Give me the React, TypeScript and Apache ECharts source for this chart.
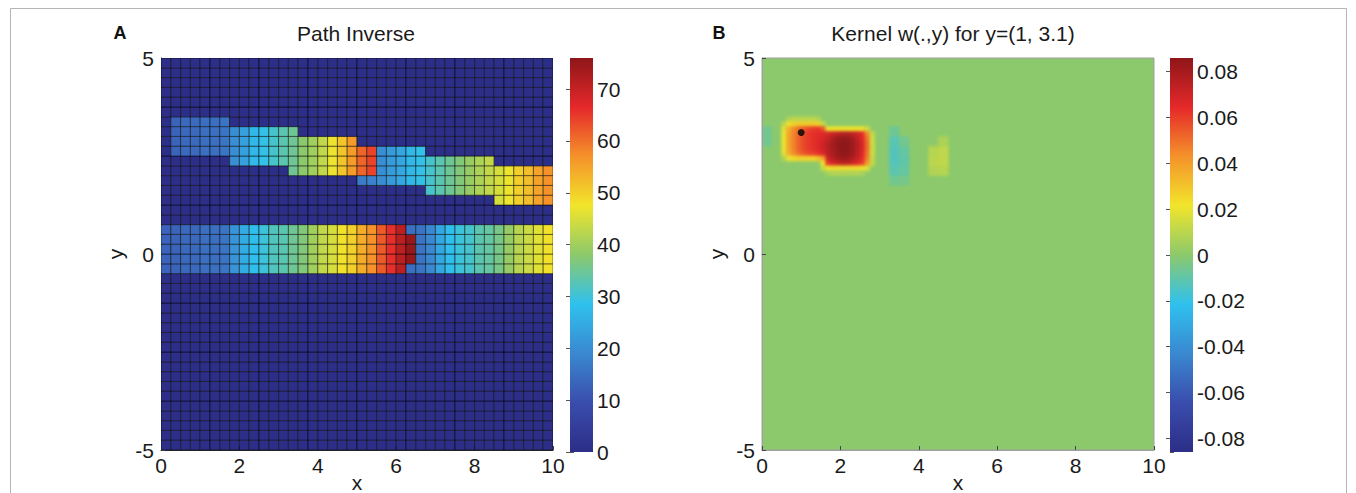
import React, { useEffect, useRef } from "react";
import * as echarts from "echarts";

// ---------------- data ----------------
const CELL = 0.25;
const xTickValues = [0, 2, 4, 6, 8, 10];
const yTickValues = [-5, 0, 5];
const pathMax = 76;
const kernelRange = 0.086;
const kernelPoint = [1, 3.1];

// Panel A, upper path band: runs of columns (first column index, y bottom, y top, value per column)
const upperRunStart = [1, 7, 13, 14, 20, 22, 27, 34];
const upperRunBottom = [2.5, 2.25, 2.0, 2.0, 2.0, 1.75, 1.5, 1.25];
const upperRunTop = [3.5, 3.25, 3.25, 3.0, 2.75, 2.75, 2.5, 2.25];
const upperRunValues = [
  [13, 14, 14, 15, 15, 16],
  [20, 23, 27, 29, 31, 33],
  [35],
  [38, 40, 43, 47, 51, 56],
  [61, 64],
  [20, 22, 24, 27, 29],
  [31, 33, 35, 37, 39, 41, 43],
  [45, 47, 50, 52, 55, 57],
];
const upperExtraCells = [
  [5.0, 1.75, 17],
  [5.25, 1.75, 18],
];

// Panel A, lower band (y -0.5 .. 0.75), one value per column 0..39
const lowerBottom = -0.5;
const lowerTop = 0.75;
const lowerValues = [
  13, 13, 14, 14, 15, 15, 16, 21, 25, 28, 30, 32, 33, 35, 37, 40, 43, 45, 48, 50,
  54, 57, 62, 66, 71, 75, 16, 19, 24, 28, 30, 31, 33, 34, 36, 39, 42, 44, 46, 48,
];
const lowerExtraCells = [
  [6.25, 0.5, 15],
  [6.25, -0.5, 15],
];

// Panel B kernel, fine cells (0.125), values in 1/1000; columns from x=0.375, rows from y=3.5 down
const kernelFineX0 = 0.375;
const kernelFineTop = 3.5;
const kernelFineStep = 0.125;
const kernelFineRows = [
  [0, 0, 8, 10, 10, 10, 10, 10, 8, 0, 0, 0, 0, 0, 0, 0, 0, 0, 0, 0],
  [0, 10, 22, 26, 28, 28, 28, 28, 26, 12, 0, 0, 0, 0, 0, 0, 0, 0, 0, 0],
  [0, 18, 36, 44, 50, 55, 58, 60, 62, 56, 20, 22, 22, 22, 22, 22, 22, 20, 14, 0],
  [0, 20, 38, 46, 53, 58, 61, 63, 65, 66, 68, 72, 74, 76, 76, 74, 70, 64, 45, 12],
  [0, 20, 38, 46, 53, 58, 61, 63, 65, 68, 72, 78, 82, 84, 84, 80, 74, 66, 50, 14],
  [0, 20, 38, 46, 53, 58, 61, 63, 66, 70, 75, 80, 84, 86, 86, 82, 76, 68, 52, 14],
  [0, 20, 38, 46, 53, 58, 61, 63, 66, 70, 75, 80, 84, 86, 86, 82, 76, 68, 52, 14],
  [0, 18, 36, 44, 50, 55, 58, 60, 63, 68, 74, 79, 83, 85, 85, 81, 75, 67, 50, 14],
  [0, 8, 20, 24, 26, 26, 26, 26, 30, 40, 70, 76, 80, 82, 82, 78, 72, 64, 48, 12],
  [0, 0, 0, 0, 0, 0, 0, 0, 0, 22, 62, 68, 72, 74, 74, 70, 66, 60, 42, 12],
  [0, 0, 0, 0, 0, 0, 0, 0, 0, 12, 22, 24, 24, 24, 24, 24, 24, 22, 16, 0],
  [0, 0, 0, 0, 0, 0, 0, 0, 0, 0, 6, 8, 8, 8, 8, 8, 8, 6, 0, 0],
];
// Panel B kernel, faint coarse cells (0.25): [x0, y0, value/1000]
const kernelCoarseCells = [
  [0, 2.75, -6], [0, 3.0, -6],
  [3.25, 1.75, -6], [3.25, 2.0, -11], [3.25, 2.25, -13], [3.25, 2.5, -13], [3.25, 2.75, -12], [3.25, 3.0, -7],
  [3.5, 1.75, -5], [3.5, 2.0, -9], [3.5, 2.25, -10], [3.5, 2.5, -9], [3.5, 2.75, -6],
  [4.25, 2.0, 8], [4.25, 2.25, 10], [4.25, 2.5, 9],
  [4.5, 2.0, 9], [4.5, 2.25, 11], [4.5, 2.5, 11], [4.5, 2.75, 7],
];

// ---------------- styles / layout ----------------
const FONT = "'Liberation Sans', Arial, Helvetica, sans-serif";
const FS = 21;
const JET = ["#2C2E87", "#3A4DAC", "#3A88D0", "#2FC1EE", "#8CC96C", "#F1E52B", "#F5922A", "#E5282A", "#8E1619"];
const ZERO_COLOR = JET[4];
const plotA = { left: 161, top: 58, width: 392, height: 392 };
const barA = { left: 570, top: 58, width: 23, height: 394 };
const plotB = { left: 762, top: 58, width: 392, height: 392 };
const barB = { left: 1170, top: 58, width: 23, height: 394 };
const HEAT_PAD = 12;

// ---------------- builders ----------------
function buildPathCells() {
  const n = Math.round(10 / CELL);
  const grid: number[][] = [];
  for (let c = 0; c < n; c++) grid.push(new Array(n).fill(0));
  const setCell = (x0: number, y0: number, v: number) => {
    const c = Math.round(x0 / CELL);
    const r = Math.round((y0 + 5) / CELL);
    if (c >= 0 && c < n && r >= 0 && r < n) grid[c][r] = v;
  };
  upperRunStart.forEach((start, k) => {
    upperRunValues[k].forEach((v, i) => {
      const x0 = (start + i) * CELL;
      for (let y0 = upperRunBottom[k]; y0 < upperRunTop[k] - 1e-9; y0 += CELL) setCell(x0, y0, v);
    });
  });
  upperExtraCells.forEach(([x, y, v]) => setCell(x, y, v));
  lowerValues.forEach((v, c) => {
    for (let y0 = lowerBottom; y0 < lowerTop - 1e-9; y0 += CELL) setCell(c * CELL, y0, v);
  });
  lowerExtraCells.forEach(([x, y, v]) => setCell(x, y, v));
  const data: number[][] = [];
  for (let c = 0; c < n; c++) for (let r = 0; r < n; r++) data.push([c * CELL, -5 + r * CELL, CELL, grid[c][r]]);
  return data;
}

function buildKernelCells() {
  const data: number[][] = [];
  kernelCoarseCells.forEach(([x, y, v]) => data.push([x, y, CELL, v / 1000]));
  kernelFineRows.forEach((row, j) => {
    row.forEach((v, i) => {
      if (v === 0) return;
      const x0 = kernelFineX0 + i * kernelFineStep;
      const y0 = kernelFineTop - (j + 1) * kernelFineStep;
      data.push([x0, y0, kernelFineStep, v / 1000]);
    });
  });
  return data;
}

const cellRenderer = (stroke: string | null) => (params: any, api: any) => {
  const x0 = api.value(0);
  const y0 = api.value(1);
  const s = api.value(2);
  const p1 = api.coord([x0, y0 + s]);
  const p2 = api.coord([x0 + s, y0]);
  const fill = api.visual("color");
  return {
    type: "rect",
    shape: { x: p1[0], y: p1[1], width: p2[0] - p1[0], height: p2[1] - p1[1] },
    style: { fill, stroke: stroke || fill, lineWidth: stroke ? 0.9 : 0.6 },
  };
};

const colorbarRenderer = (params: any, api: any) => {
  const top = api.coord([0, api.value(2)]);
  const bot = api.coord([1, api.value(1)]);
  const rev = JET.slice().reverse();
  return {
    type: "rect",
    shape: { x: top[0], y: top[1], width: bot[0] - top[0], height: bot[1] - top[1] },
    style: {
      fill: new echarts.graphic.LinearGradient(
        0, 0, 0, 1,
        rev.map((c, i) => ({ offset: i / (rev.length - 1), color: c }))
      ),
    },
  };
};

const tickLabel = { fontSize: FS, fontFamily: FONT, color: "#1a1a1a" };

function plotXAxis(gridIndex: number, lineColor: string) {
  return {
    type: "value", gridIndex, min: xTickValues[0], max: xTickValues[xTickValues.length - 1], interval: 2,
    position: "bottom",
    axisLine: { show: true, onZero: false, lineStyle: { color: lineColor, width: 1 } },
    axisTick: { show: true, inside: true, length: 4, lineStyle: { color: "#444" } },
    axisLabel: { ...tickLabel, margin: 5 },
    splitLine: { show: false },
    name: "x", nameLocation: "middle", nameGap: 22, nameMoveOverlap: false,
    nameTextStyle: { fontSize: FS, fontFamily: FONT, color: "#1a1a1a" },
  };
}
function plotYAxis(gridIndex: number, lineColor: string) {
  return {
    type: "value", gridIndex, min: yTickValues[0], max: yTickValues[yTickValues.length - 1], interval: 5,
    position: "left",
    axisLine: { show: true, onZero: false, lineStyle: { color: lineColor, width: 1 } },
    axisTick: { show: true, inside: true, length: 4, lineStyle: { color: "#444" } },
    axisLabel: { ...tickLabel, margin: 7 },
    splitLine: { show: false },
    name: "y", nameLocation: "middle", nameGap: 35, nameRotate: 90, nameMoveOverlap: false,
    nameTextStyle: { fontSize: FS, fontFamily: FONT, color: "#1a1a1a" },
  };
}

function mainOption() {
  return {
    animation: false,
    grid: [
      { ...plotA, show: false, outerBoundsMode: "none", containLabel: false },
      { ...barA, show: false, outerBoundsMode: "none", containLabel: false },
      {
        ...plotB, show: true, borderColor: "#a0a0a0", borderWidth: 1, backgroundColor: "transparent",
        outerBoundsMode: "none", containLabel: false,
      },
      { ...barB, show: false, outerBoundsMode: "none", containLabel: false },
    ],
    xAxis: [
      plotXAxis(0, "#222"),
      { type: "value", gridIndex: 1, min: 0, max: 1, show: false },
      plotXAxis(2, "#a0a0a0"),
      { type: "value", gridIndex: 3, min: 0, max: 1, show: false },
    ],
    yAxis: [
      plotYAxis(0, "#222"),
      {
        type: "value", gridIndex: 1, min: 0, max: pathMax, interval: 10, position: "right",
        axisLine: { show: false },
        axisTick: { show: true, inside: true, length: 4, lineStyle: { color: "#555" } },
        axisLabel: { ...tickLabel, margin: 4, showMaxLabel: false },
        splitLine: { show: false },
      },
      {
        type: "value", gridIndex: 1, min: 0, max: pathMax, interval: 10, position: "left",
        axisLine: { show: false },
        axisTick: { show: true, inside: true, length: 4, lineStyle: { color: "#555" } },
        axisLabel: { show: false },
        splitLine: { show: false },
      },
      plotYAxis(2, "#a0a0a0"),
      {
        type: "value", gridIndex: 3, min: -kernelRange, max: kernelRange, splitNumber: 8, position: "right",
        axisLine: { show: false },
        axisTick: { show: true, inside: true, length: 4, lineStyle: { color: "#555" } },
        axisLabel: {
          ...tickLabel, margin: 4, showMaxLabel: false, showMinLabel: false,
          formatter: (v: number) => (Math.abs(v) < 1e-9 ? "0" : v.toFixed(2)),
        },
        splitLine: { show: false },
      },
      {
        type: "value", gridIndex: 3, min: -kernelRange, max: kernelRange, splitNumber: 8, position: "left",
        axisLine: { show: false },
        axisTick: { show: true, inside: true, length: 4, lineStyle: { color: "#555" } },
        axisLabel: { show: false },
        splitLine: { show: false },
      },
    ],
    visualMap: [
      {
        type: "continuous", show: false, seriesIndex: 0, dimension: 3,
        min: 0, max: pathMax, inRange: { color: JET },
      },
    ],
    series: [
      {
        type: "custom", xAxisIndex: 0, yAxisIndex: 0, data: buildPathCells(),
        renderItem: cellRenderer("rgba(0,0,0,0.55)"), clip: true,
      },
      {
        type: "custom", xAxisIndex: 1, yAxisIndex: 1, data: [[0, 0, pathMax]],
        renderItem: colorbarRenderer, clip: false, z: 1,
      },
      {
        type: "scatter", xAxisIndex: 2, yAxisIndex: 3, data: [kernelPoint],
        symbolSize: 7, itemStyle: { color: "#000" }, z: 5,
      },
      {
        type: "custom", xAxisIndex: 3, yAxisIndex: 4, data: [[0, -kernelRange, kernelRange]],
        renderItem: colorbarRenderer, clip: false, z: 1,
      },
    ],
    graphic: [
      {
        type: "rect", silent: true, z: -10,
        shape: { x: 10.5, y: 8.5, width: 1336, height: 520 },
        style: { fill: "none", stroke: "#b5b5b5", lineWidth: 1 },
      },
      {
        type: "text", x: 120, y: 33,
        style: { text: "A", fontSize: 18, fontWeight: "bold", fontFamily: FONT, fill: "#111", align: "center", verticalAlign: "middle" },
      },
      {
        type: "text", x: 356, y: 33,
        style: { text: "Path Inverse", fontSize: FS, fontFamily: FONT, fill: "#1a1a1a", align: "center", verticalAlign: "middle" },
      },
      {
        type: "text", x: 719, y: 33,
        style: { text: "B", fontSize: 18, fontWeight: "bold", fontFamily: FONT, fill: "#111", align: "center", verticalAlign: "middle" },
      },
      {
        type: "text", x: 953, y: 33,
        style: { text: "Kernel w(.,y) for y=(1, 3.1)", fontSize: FS, fontFamily: FONT, fill: "#1a1a1a", align: "center", verticalAlign: "middle" },
      },
    ],
  };
}

function heatOption() {
  return {
    animation: false,
    backgroundColor: ZERO_COLOR,
    grid: {
      left: HEAT_PAD, top: HEAT_PAD, width: plotB.width, height: plotB.height, show: false,
      outerBoundsMode: "none", containLabel: false,
    },
    xAxis: { type: "value", min: 0, max: 10, show: false },
    yAxis: { type: "value", min: -5, max: 5, show: false },
    visualMap: {
      type: "continuous", show: false, seriesIndex: 0, dimension: 3,
      min: -kernelRange, max: kernelRange, inRange: { color: JET },
    },
    series: [
      { type: "custom", data: buildKernelCells(), renderItem: cellRenderer(null), clip: true },
    ],
  };
}

export default function App() {
  const mainRef = useRef<HTMLDivElement>(null);
  const heatRef = useRef<HTMLDivElement>(null);

  useEffect(() => {
    const heat = echarts.init(heatRef.current!, null, { renderer: "svg" });
    heat.setOption(heatOption() as any);
    const main = echarts.init(mainRef.current!, null, { renderer: "svg" });
    main.setOption(mainOption() as any);
    return () => {
      heat.dispose();
      main.dispose();
    };
  }, []);

  return (
    <div style={{ position: "fixed", left: 0, top: 0, width: 1356, height: 493, background: "#fff", overflow: "hidden" }}>
      <div
        style={{
          position: "absolute", left: plotB.left, top: plotB.top, width: plotB.width, height: plotB.height,
          overflow: "hidden", zIndex: 0,
        }}
      >
        <div
          ref={heatRef}
          style={{
            position: "absolute", left: -HEAT_PAD, top: -HEAT_PAD,
            width: plotB.width + 2 * HEAT_PAD, height: plotB.height + 2 * HEAT_PAD,
            filter: "blur(1.6px)",
          }}
        />
      </div>
      <div ref={mainRef} style={{ position: "absolute", left: 0, top: 0, width: 1356, height: 493, zIndex: 1 }} />
    </div>
  );
}
